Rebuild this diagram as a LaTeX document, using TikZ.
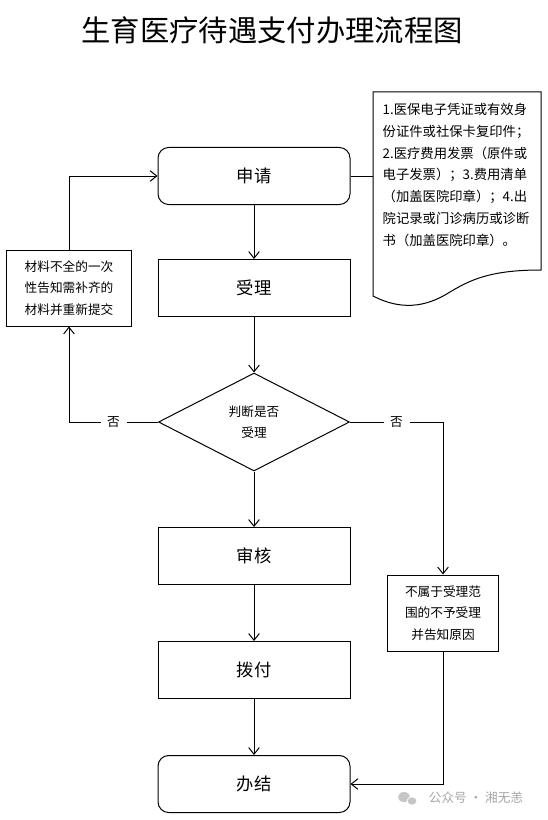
\documentclass[tikz,border=0pt]{standalone}
\usepackage{fontspec}
\setmainfont{Noto Sans CJK SC}
\usepackage{tikz}
\usetikzlibrary{shapes.geometric,arrows.meta}

\begin{document}
\begin{tikzpicture}[
    x=0.75pt, y=-0.75pt,
    line width=0.75pt,
    stepbox/.style={draw, minimum width=144pt, minimum height=42.75pt, font=\fontsize{13}{16}\selectfont},
    roundbox/.style={stepbox, rounded corners=8pt},
    decision/.style={draw, diamond, aspect=1.95, minimum width=143.25pt, minimum height=73.5pt, inner sep=0pt, align=center, font=\fontsize{9.5}{16}\selectfont},
    sidebox/.style={draw, minimum height=57pt, align=center, inner sep=0pt, font=\fontsize{9.5}{16.3}\selectfont},
    lbl/.style={fill=white, inner sep=5pt, font=\fontsize{9.5}{11}\selectfont},
    arr/.style={-{Straight Barb[length=5pt,width=8pt]}}
]
\useasboundingbox (0,0) rectangle (548,820);

\node[font=\fontsize{22}{26}\selectfont] (title) at (272,30) {生育医疗待遇支付办理流程图};

\node[roundbox] (apply) at (254,176) {申请};
\node[stepbox] (accept) at (254,288) {受理};
\node[decision] (judge) at (254,422) {判断是否\\受理};
\node[stepbox] (review) at (254,556) {审核};
\node[stepbox] (pay) at (254,670) {拨付};
\node[roundbox] (finish) at (254,784) {办结};
\node[sidebox, minimum width=93.75pt] (redo) at (69,288) {材料不全的一次\\性告知需补齐的\\材料并重新提交};
\node[sidebox, minimum width=83.25pt] (reject) at (443,613) {不属于受理范\\围的不予受理\\并告知原因};

\draw (373,92) -- (541,92) -- (541,270)
    .. controls (490,270) and (470,280) .. (450,292)
    .. controls (425,308) and (400,310) .. (373,296) -- cycle;
\node[align=left, font=\fontsize{10}{16.3}\selectfont] (docs) at (456,175)
    {1.医保电子凭证或有效身\\份证件或社保卡复印件；\\2.医疗费用发票（原件或\\电子发票）；3.费用清单\\（加盖医院印章）；4.出\\院记录或门诊病历或诊断\\书（加盖医院印章）。};
\coordinate (docin) at (373,176);

\draw[arr] (apply) -- (accept);
\draw[arr] (accept) -- (judge);
\draw[arr] (judge) -- (review);
\draw[arr] (review) -- (pay);
\draw[arr] (pay) -- (finish);
\draw (apply.east) -- (docin);
\draw[arr] (judge.west) -| node[lbl, pos=0.25] {否} (redo.south);
\draw[arr] (redo.north) |- (apply.west);
\draw[arr] (judge.east) -| node[lbl, pos=0.25] {否} (reject.north);
\draw[arr] (reject.south) |- (finish.east);

\fill[gray!45] (404,797) ellipse (6 and 5);
\fill[gray!45, draw=white, line width=0.6pt] (412,801) ellipse (5 and 4.2);
\node[text=gray!70, font=\fontsize{9.5}{11}\selectfont] (mark) at (476,798) {公众号 · 湘无恙};
\end{tikzpicture}
\end{document}
